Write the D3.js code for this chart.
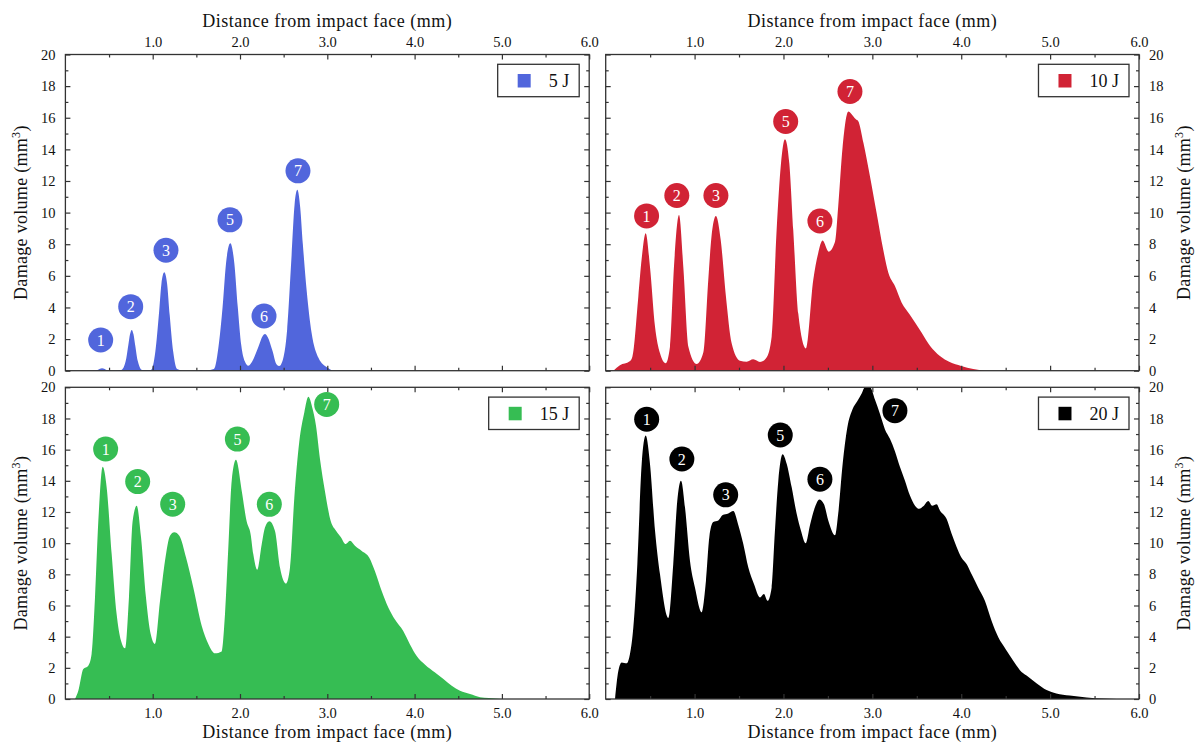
<!DOCTYPE html>
<html>
<head>
<meta charset="utf-8">
<script src="https://cdn.jsdelivr.net/npm/d3@7"></script>
<style>
	body { margin: 0; background: #fff; }
	svg { display: block; font-family: "Liberation Serif", "DejaVu Serif", serif; }
</style>
</head>
<body>
<div id="chart"></div>
<script>
'use strict';

// energies and fill colours
const energies = ["5 J", "10 J", "15 J", "20 J"];
const colors = ["#5166dc", "#d12335", "#36bd53", "#000000"];

// tick values
const xMajor = [1, 2, 3, 4, 5, 6];
const xMinor = [0.5, 1.5, 2.5, 3.5, 4.5, 5.5];
const yMajor = [0, 2, 4, 6, 8, 10, 12, 14, 16, 18, 20];
const yMinor = [1, 3, 5, 7, 9, 11, 13, 15, 17, 19];

// damage volume profiles (distance in mm, volume in mm^3)
const dist5 = [0, 0.3, 0.36, 0.42, 0.48, 0.55, 0.64, 0.69, 0.72, 0.74, 0.76, 0.78, 0.80, 0.83, 0.88, 0.98, 1.03, 1.07, 1.10, 1.133, 1.165, 1.195, 1.235, 1.28, 1.35, 1.5, 1.55, 1.6, 1.70, 1.76, 1.80, 1.84, 1.889, 1.935, 1.975, 2.015, 2.055, 2.095, 2.15, 2.21, 2.26, 2.286, 2.32, 2.37, 2.42, 2.45, 2.50, 2.54, 2.59, 2.625, 2.657, 2.69, 2.72, 2.765, 2.82, 2.9, 3.0, 3.06];
const vol5  = [0, 0, 0.03, 0.15, 0.03, 0, 0.05, 0.6, 1.6, 2.3, 2.58, 2.3, 1.6, 0.6, 0.05, 0.05, 1.2, 3.5, 5.5, 6.23, 5.5, 3.5, 1.2, 0.1, 0, 0, 0.05, 0, 0.1, 1.8, 4.0, 6.8, 8.06, 6.8, 4.0, 1.6, 0.6, 0.32, 0.7, 1.5, 2.2, 2.32, 2.1, 1.3, 0.4, 0.3, 0.9, 2.6, 7.2, 10.5, 11.44, 10.3, 8.0, 5.0, 2.4, 0.8, 0.2, 0];

const dist10 = [0.086, 0.16, 0.27, 0.30, 0.367, 0.405, 0.45, 0.498, 0.555, 0.611, 0.675, 0.723, 0.768, 0.825, 0.873, 0.93, 1.024, 1.098, 1.154, 1.19, 1.24, 1.294, 1.353, 1.417, 1.51, 1.586, 1.66, 1.736, 1.81, 1.867, 1.923, 1.972, 2.017, 2.066, 2.11, 2.167, 2.253, 2.335, 2.39, 2.44, 2.508, 2.58, 2.616, 2.666, 2.73, 2.785, 2.815, 2.84, 2.9, 2.973, 3.048, 3.122, 3.18, 3.254, 3.33, 3.42, 3.555, 3.65, 3.76, 3.87, 4.0, 4.135, 4.27];
const vol10  = [0, 0.35, 0.6, 0.89, 4.68, 7.1, 8.69, 6.58, 2.78, 1.1, 0.47, 1.52, 6.58, 9.85, 6.58, 1.52, 0.43, 1.15, 5.73, 8.48, 9.79, 8.27, 4.68, 1.73, 0.63, 0.57, 0.72, 0.55, 0.84, 2.15, 8.9, 13.1, 14.64, 13.1, 8.9, 3.6, 1.4, 5.73, 7.42, 8.23, 7.53, 8.16, 10.4, 14.2, 16.4, 16.1, 15.9, 15.8, 14.4, 12.3, 9.98, 7.66, 6.19, 5.35, 4.3, 3.56, 2.4, 1.56, 0.93, 0.55, 0.3, 0.1, 0];

const dist15 = [0.11, 0.148, 0.205, 0.262, 0.30, 0.339, 0.377, 0.427, 0.473, 0.53, 0.587, 0.637, 0.683, 0.728, 0.77, 0.817, 0.866, 0.923, 0.977, 1.026, 1.084, 1.141, 1.198, 1.247, 1.305, 1.381, 1.465, 1.561, 1.637, 1.714, 1.79, 1.828, 1.866, 1.905, 1.954, 2.02, 2.076, 2.122, 2.152, 2.198, 2.248, 2.286, 2.336, 2.4, 2.458, 2.527, 2.573, 2.622, 2.679, 2.737, 2.783, 2.832, 2.87, 2.916, 2.974, 3.04, 3.1, 3.154, 3.21, 3.26, 3.317, 3.394, 3.481, 3.546, 3.623, 3.7, 3.775, 3.87, 3.947, 4.024, 4.12, 4.234, 4.33, 4.425, 4.52, 4.635, 4.75, 4.85, 5.0];
const vol15  = [0, 0.53, 1.92, 2.14, 2.89, 6.52, 11.4, 14.9, 13.56, 9.3, 5.44, 3.74, 3.25, 6.52, 11.4, 12.4, 10.4, 6.52, 4.17, 3.53, 6.3, 8.87, 10.48, 10.7, 10.48, 9.1, 7.16, 4.7, 3.53, 2.93, 3.05, 5.44, 9.7, 14.0, 15.35, 13.35, 11.4, 10.56, 9.3, 8.3, 9.9, 11.0, 11.4, 10.8, 8.43, 7.4, 8.43, 12.9, 16.5, 18.4, 19.4, 18.6, 17.55, 15.4, 13.3, 11.4, 10.8, 10.4, 9.94, 10.15, 9.83, 9.5, 9.07, 8.2, 6.93, 5.86, 5.1, 4.36, 3.5, 2.76, 2.2, 1.7, 1.28, 0.85, 0.53, 0.32, 0.12, 0.06, 0];

const dist20 = [0.105, 0.142, 0.18, 0.236, 0.273, 0.311, 0.356, 0.405, 0.45, 0.498, 0.555, 0.611, 0.704, 0.76, 0.805, 0.847, 0.892, 0.948, 1.004, 1.08, 1.128, 1.166, 1.21, 1.267, 1.316, 1.379, 1.435, 1.49, 1.548, 1.604, 1.668, 1.736, 1.78, 1.822, 1.867, 1.904, 1.942, 1.99, 2.036, 2.092, 2.148, 2.197, 2.25, 2.3, 2.354, 2.403, 2.456, 2.504, 2.58, 2.616, 2.666, 2.718, 2.778, 2.83, 2.88, 2.917, 2.973, 3.03, 3.085, 3.142, 3.198, 3.254, 3.31, 3.367, 3.423, 3.48, 3.527, 3.573, 3.629, 3.674, 3.723, 3.76, 3.836, 3.892, 3.948, 4.0, 4.06, 4.117, 4.19, 4.266, 4.342, 4.417, 4.5, 4.585, 4.66, 4.735, 4.85, 4.96, 5.07, 5.22, 5.41, 5.6, 5.75];
const vol20  = [0, 1.8, 2.35, 2.29, 2.89, 4.6, 8.66, 15.1, 16.9, 15.1, 10.8, 8.0, 5.2, 8.66, 12.7, 14.0, 12.3, 8.87, 7.16, 5.56, 7.59, 10.4, 11.35, 11.45, 11.8, 11.9, 12.06, 11.2, 9.94, 8.45, 7.38, 6.52, 6.74, 6.3, 7.16, 10.8, 14.0, 15.7, 15.1, 13.6, 11.9, 10.8, 10.0, 11.2, 12.3, 12.8, 12.5, 11.45, 10.5, 11.9, 15.1, 17.4, 18.6, 19.1, 19.6, 20, 20, 19.2, 18.3, 17.3, 16.7, 15.9, 14.9, 14.0, 13.05, 12.4, 12.2, 12.36, 12.7, 12.4, 12.5, 12.1, 11.55, 10.6, 9.75, 9.1, 8.66, 8.0, 7.16, 6.3, 5.0, 3.96, 3.2, 2.46, 1.85, 1.5, 1.0, 0.58, 0.36, 0.22, 0.1, 0.03, 0];

// numbered peak markers
const peakIds = ["1", "2", "3", "5", "6", "7"];
const peakX5  = [0.404, 0.748, 1.152, 1.885, 2.275, 2.664];
const peakY5  = [1.94, 4.05, 7.62, 9.54, 3.46, 12.64];
const peakX10 = [0.46, 0.80, 1.24, 2.025, 2.41, 2.748];
const peakY10 = [9.79, 11.08, 11.08, 15.76, 9.47, 17.66];
const peakX15 = [0.461, 0.828, 1.229, 1.97, 2.336, 2.993];
const peakY15 = [16.04, 13.95, 12.5, 16.68, 12.49, 18.9];
const peakX20 = [0.461, 0.857, 1.35, 1.964, 2.41, 3.254];
const peakY20 = [17.95, 15.4, 13.1, 16.94, 14.1, 18.5];

const xTitle = "Distance from impact face (mm)";

const series = [
	{ xs: dist5,  ys: vol5,  px: peakX5,  py: peakY5 },
	{ xs: dist10, ys: vol10, px: peakX10, py: peakY10 },
	{ xs: dist15, ys: vol15, px: peakX15, py: peakY15 },
	{ xs: dist20, ys: vol20, px: peakX20, py: peakY20 }
];

// panel boxes in pixels
const W = 1199, H = 745;
const panels = [
	{ l: 65.4,  r: 589.2, t: 54.5,  b: 370.7, yside: "left",  xside: "top" },
	{ l: 605.7, r: 1139,  t: 54.5,  b: 370.7, yside: "right", xside: "top" },
	{ l: 65.4,  r: 589.2, t: 387.3, b: 699,   yside: "left",  xside: "bottom" },
	{ l: 605.7, r: 1139,  t: 387.3, b: 699,   yside: "right", xside: "bottom" }
];

const axisColor = "#333";

const svg = d3.select("#chart").append("svg")
	.attr("width", W)
	.attr("height", H);

const defs = svg.append("defs");

panels.forEach((p, i) => {
	const s = series[i];
	const x = d3.scaleLinear().domain([0, 6]).range([p.l, p.r]);
	const y = d3.scaleLinear().domain([0, 20]).range([p.b, p.t]);
	const pts = s.xs.map((d, k) => [d, s.ys[k]]);

	defs.append("clipPath").attr("id", `clip${i}`)
		.append("rect")
		.attr("x", p.l).attr("y", p.t)
		.attr("width", p.r - p.l).attr("height", p.b - p.t);

	const g = svg.append("g").attr("class", `panel-${i}`);

	const area = d3.area()
		.x(d => x(d[0]))
		.y0(y(0))
		.y1(d => y(d[1]))
		.curve(d3.curveMonotoneX);

	g.append("path")
		.datum(pts)
		.attr("clip-path", `url(#clip${i})`)
		.attr("fill", colors[i])
		.attr("d", area);

	// frame
	g.append("rect")
		.attr("x", p.l).attr("y", p.t)
		.attr("width", p.r - p.l).attr("height", p.b - p.t)
		.attr("fill", "none")
		.attr("stroke", axisColor)
		.attr("stroke-width", 1.3);

	// ticks on all four sides, pointing inward
	const fmt = d3.format(".1f");
	const sides = [
		{ ax: d3.axisTop(x),    tr: `translate(0,${p.t})`, lab: p.xside === "top",    vals: xMajor, minor: xMinor, f: fmt },
		{ ax: d3.axisBottom(x), tr: `translate(0,${p.b})`, lab: p.xside === "bottom", vals: xMajor, minor: xMinor, f: fmt },
		{ ax: d3.axisLeft(y),   tr: `translate(${p.l},0)`, lab: p.yside === "left",   vals: yMajor, minor: yMinor, f: d3.format("d") },
		{ ax: d3.axisRight(y),  tr: `translate(${p.r},0)`, lab: p.yside === "right",  vals: yMajor, minor: yMinor, f: d3.format("d") }
	];

	sides.forEach((sd, k) => {
		const pad = k === 0 ? 8 : k === 1 ? 9 : 10;
		const maj = g.append("g")
			.attr("transform", sd.tr)
			.call(sd.ax.tickValues(sd.vals).tickSize(-5).tickPadding(pad)
				.tickFormat(sd.lab ? sd.f : () => ""));
		maj.select(".domain").remove();
		maj.selectAll("line").attr("stroke", axisColor).attr("stroke-width", 1.2);
		maj.selectAll("text")
			.attr("fill", "#111")
			.style("font-family", "'Liberation Serif', serif")
			.style("font-size", "14.5px");

		const mnr = g.append("g")
			.attr("transform", sd.tr)
			.call(sd.ax.tickValues(sd.minor).tickSize(-3).tickFormat(() => ""));
		mnr.select(".domain").remove();
		mnr.selectAll("line").attr("stroke", axisColor).attr("stroke-width", 1.2);
	});

	// x title
	const cx = (p.l + p.r) / 2;
	g.append("text")
		.attr("x", cx)
		.attr("y", p.xside === "top" ? 27 : 738)
		.attr("text-anchor", "middle")
		.attr("fill", "#111")
		.style("font-size", "18px")
		.style("letter-spacing", "0.5px")
		.text(xTitle);

	// y title
	const ty = (p.t + p.b) / 2;
	const tx = p.yside === "left" ? 27 : 1190;
	const yt = g.append("text")
		.attr("transform", `translate(${tx},${ty}) rotate(-90)`)
		.attr("text-anchor", "middle")
		.attr("fill", "#111")
		.style("font-size", "18px")
		.style("letter-spacing", "0.3px");
	yt.append("tspan").text("Damage volume (mm");
	yt.append("tspan").attr("dy", -7).style("font-size", "12px").text("3");
	yt.append("tspan").attr("dy", 7).text(")");

	// numbered peak markers
	const mk = g.selectAll("g.marker")
		.data(peakIds.map((id, k) => ({ id, x: s.px[k], y: s.py[k] })))
		.enter().append("g")
		.attr("class", "marker")
		.attr("transform", d => `translate(${x(d.x)},${y(d.y)})`);
	mk.append("circle").attr("r", 12.5).attr("fill", colors[i]);
	mk.append("text")
		.attr("text-anchor", "middle")
		.attr("dy", "0.35em")
		.attr("fill", "#fff")
		.style("font-size", "16px")
		.text(d => d.id);

	// legend
	const lg = g.append("g");
	const boxR = p.r - 10;
	const boxT = p.t + 9.8;
	const lt = lg.append("text")
		.attr("x", boxR - 10)
		.attr("y", boxT + 16.2)
		.attr("dy", "0.35em")
		.attr("text-anchor", "end")
		.attr("fill", "#111")
		.style("font-size", "18px")
		.text(energies[i]);
	const tw = lt.node().getComputedTextLength();
	const sqR = boxR - 10 - tw - 18;
	const boxL = sqR - 13 - 20;
	lg.insert("rect", "text")
		.attr("x", boxL).attr("y", boxT)
		.attr("width", boxR - boxL).attr("height", 32.4)
		.attr("fill", "#fff")
		.attr("stroke", axisColor)
		.attr("stroke-width", 1.3);
	lg.append("rect")
		.attr("x", sqR - 13).attr("y", boxT + 9.7)
		.attr("width", 13).attr("height", 13.5)
		.attr("fill", colors[i]);
});
</script>
</body>
</html>
